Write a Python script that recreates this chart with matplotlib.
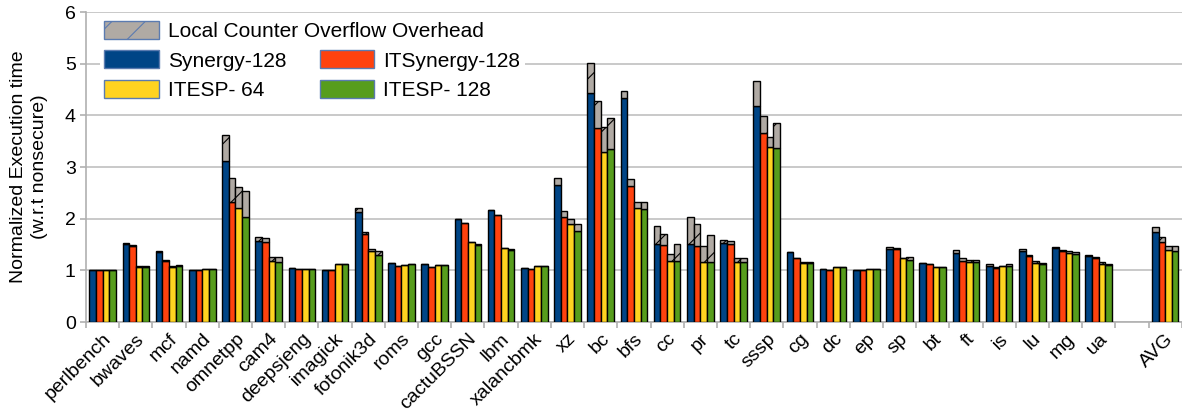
import numpy as np
import matplotlib
matplotlib.use('Agg')
import matplotlib.pyplot as plt
from matplotlib.patches import Patch

nan = np.nan
benchmarks = ['perlbench', 'bwaves', 'mcf', 'namd', 'omnetpp', 'cam4', 'deepsjeng', 'imagick',
              'fotonik3d', 'roms', 'gcc', 'cactuBSSN', 'lbm', 'xalancbmk', 'xz', 'bc', 'bfs',
              'cc', 'pr', 'tc', 'sssp', 'cg', 'dc', 'ep', 'sp', 'bt', 'ft', 'is', 'lu', 'mg',
              'ua', '', 'AVG']

# base execution time (without local counter overflow)
synergy_base = [1.01, 1.52, 1.36, 1.00, 3.12, 1.57, 1.04, 1.00, 2.13, 1.15, 1.13, 1.99, 2.17, 1.05,
                2.65, 4.43, 4.33, 1.52, 1.52, 1.53, 4.19, 1.35, 1.03, 1.01, 1.42, 1.14, 1.34, 1.08,
                1.38, 1.43, 1.27, nan, 1.74]
itsynergy_base = [1.00, 1.48, 1.19, 1.00, 2.33, 1.55, 1.02, 1.00, 1.70, 1.09, 1.07, 1.92, 2.07, 1.03,
                  2.04, 3.75, 2.63, 1.50, 1.48, 1.52, 3.66, 1.23, 1.01, 1.01, 1.42, 1.12, 1.19, 1.05,
                  1.28, 1.37, 1.23, nan, 1.54]
itesp64_base = [1.00, 1.07, 1.07, 1.02, 2.21, 1.19, 1.02, 1.13, 1.37, 1.11, 1.10, 1.54, 1.43, 1.08,
                1.89, 3.30, 2.20, 1.18, 1.17, 1.17, 3.39, 1.15, 1.06, 1.02, 1.23, 1.06, 1.16, 1.08,
                1.15, 1.34, 1.12, nan, 1.39]
itesp128_base = [1.00, 1.07, 1.09, 1.02, 2.04, 1.17, 1.03, 1.13, 1.30, 1.12, 1.10, 1.50, 1.40, 1.09,
                 1.77, 3.35, 2.18, 1.19, 1.16, 1.17, 3.36, 1.15, 1.06, 1.02, 1.21, 1.06, 1.16, 1.08,
                 1.13, 1.31, 1.10, nan, 1.37]

# total execution time (with local counter overflow overhead)
synergy_total = [1.01, 1.53, 1.37, 1.00, 3.62, 1.64, 1.04, 1.00, 2.20, 1.15, 1.13, 2.00, 2.17, 1.05,
                 2.78, 5.01, 4.48, 1.85, 2.03, 1.59, 4.67, 1.36, 1.03, 1.01, 1.46, 1.14, 1.39, 1.12,
                 1.41, 1.46, 1.29, nan, 1.84]
itsynergy_total = [1.00, 1.49, 1.20, 1.00, 2.79, 1.62, 1.02, 1.00, 1.75, 1.09, 1.07, 1.92, 2.07, 1.03,
                   2.15, 4.28, 2.76, 1.70, 1.90, 1.57, 3.98, 1.24, 1.01, 1.01, 1.43, 1.12, 1.23, 1.06,
                   1.30, 1.40, 1.26, nan, 1.64]
itesp64_total = [1.00, 1.08, 1.08, 1.02, 2.62, 1.25, 1.02, 1.13, 1.42, 1.11, 1.10, 1.55, 1.43, 1.08,
                 1.99, 3.78, 2.32, 1.31, 1.48, 1.23, 3.59, 1.16, 1.06, 1.02, 1.24, 1.06, 1.20, 1.09,
                 1.18, 1.37, 1.17, nan, 1.47]
itesp128_total = [1.00, 1.08, 1.10, 1.02, 2.54, 1.25, 1.03, 1.13, 1.37, 1.12, 1.10, 1.51, 1.41, 1.09,
                  1.89, 3.95, 2.32, 1.51, 1.69, 1.24, 3.86, 1.16, 1.06, 1.02, 1.25, 1.06, 1.20, 1.12,
                  1.15, 1.35, 1.13, nan, 1.48]

series = [
    ('Synergy-128', synergy_base, synergy_total, '#004586'),
    ('ITSynergy-128', itsynergy_base, itsynergy_total, '#ff420e'),
    ('ITESP- 64', itesp64_base, itesp64_total, '#ffd320'),
    ('ITESP- 128', itesp128_base, itesp128_total, '#579d1c'),
]
overhead_color = '#b0aaa4'

plt.rcParams['font.family'] = ['Liberation Sans', 'DejaVu Sans']
plt.rcParams['hatch.linewidth'] = 0.8

fig = plt.figure(figsize=(11.82, 4.11), dpi=100)
ax = fig.add_axes([0.0728, 0.2165, 0.927, 0.754])

x = np.arange(len(benchmarks))
w = 0.2
for i, (name, base, total, color) in enumerate(series):
    base = np.array(base)
    over = np.array(total) - base
    pos = x + (i - 1.5) * w
    ax.bar(pos, base, w, color=color, edgecolor='black', linewidth=1, zorder=3)
    ax.bar(pos, over, w, bottom=base, color=overhead_color, edgecolor='black',
           linewidth=1, hatch='/', zorder=3)

ax.set_xlim(-0.5, len(benchmarks) - 0.5)
ax.set_ylim(0, 6)
ax.set_yticks(range(7))
ax.yaxis.grid(True, color='#c0c0c0', linewidth=1.2, zorder=0)
ax.set_axisbelow(True)

ax.set_xticks(x)
ax.set_xticklabels(benchmarks, rotation=45, ha='right', rotation_mode='anchor', fontsize=14)
ax.set_xticks(np.arange(len(benchmarks) + 1) - 0.5, minor=True)
ax.tick_params(axis='x', which='major', length=0, pad=6)
ax.tick_params(axis='x', which='minor', length=4, color='#b0b0b0', width=1.2)
ax.tick_params(axis='y', length=4, color='#b0b0b0', width=1.2, labelsize=14)

for s in ['top', 'right']:
    ax.spines[s].set_visible(False)
for s in ['left', 'bottom']:
    ax.spines[s].set_color('#b0b0b0')
    ax.spines[s].set_linewidth(1.2)

ax.set_ylabel('Normalized Execution time\n(w.r.t nonsecure)', fontsize=14, labelpad=12,
              linespacing=1.3)

legend_edge = '#5b7bb0'
h_over = [Patch(facecolor=overhead_color, edgecolor=legend_edge, hatch='/',
                label='Local Counter Overflow Overhead')]
h_series = [Patch(facecolor=c, edgecolor=legend_edge, label=n) for n, _, _, c in series]
h_series = [h_series[0], h_series[2], h_series[1], h_series[3]]

common = dict(fontsize=15, handlelength=2.6, handleheight=0.96, handletextpad=0.45,
              borderpad=0.2, labelspacing=0.45, borderaxespad=0, frameon=True,
              facecolor='white', edgecolor='none', framealpha=1, fancybox=False)
leg1 = ax.legend(handles=h_over, loc='upper left', bbox_to_anchor=(0.013, 0.985), **common)
ax.add_artist(leg1)
ax.legend(handles=h_series, loc='upper left', bbox_to_anchor=(0.013, 0.89), ncol=2,
          columnspacing=1.6, **common)

plt.savefig('out.png', dpi=100)
